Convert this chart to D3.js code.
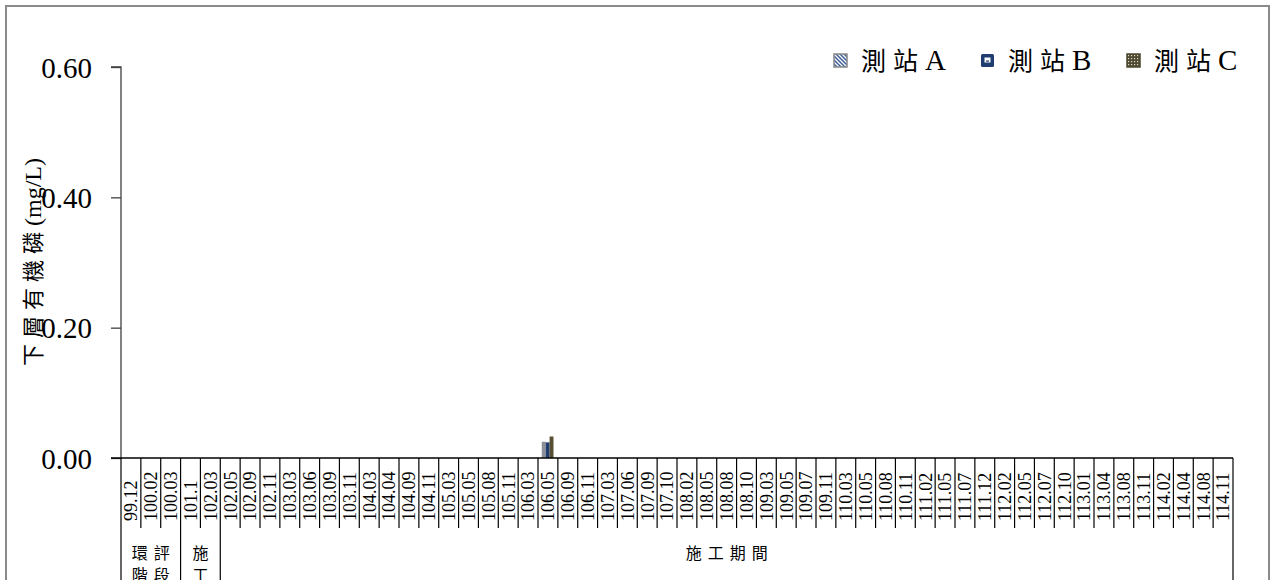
<!DOCTYPE html>
<html>
<head>
<meta charset="utf-8">
<script src="https://cdn.jsdelivr.net/npm/d3@7"></script>
<style>
  html, body { margin: 0; padding: 0; background: #fff; }
  svg { display: block; }
</style>
</head>
<body>
<svg id="chart" width="1272" height="580"></svg>
<script>
const categories = ["99.12","100.02","100.03","101.1","102.03","102.05","102.09","102.11","103.03","103.06","103.09","103.11","104.03","104.04","104.09","104.11","105.03","105.05","105.08","105.11","106.03","106.05","106.09","106.11","107.03","107.06","107.09","107.10","108.02","108.05","108.08","108.10","109.03","109.05","109.07","109.11","110.03","110.05","110.08","110.11","111.02","111.05","111.07","111.12","112.02","112.05","112.07","112.10","113.01","113.04","113.08","113.11","114.02","114.04","114.08","114.11"];

const seriesNames = ["測站A","測站B","測站C"];
const stationA = [0,0,0,0,0,0,0,0,0,0,0,0,0,0,0,0,0,0,0,0,0,0.025,0,0,0,0,0,0,0,0,0,0,0,0,0,0,0,0,0,0,0,0,0,0,0,0,0,0,0,0,0,0,0,0,0,0];
const stationB = [0,0,0,0,0,0,0,0,0,0,0,0,0,0,0,0,0,0,0,0,0,0.024,0,0,0,0,0,0,0,0,0,0,0,0,0,0,0,0,0,0,0,0,0,0,0,0,0,0,0,0,0,0,0,0,0,0];
const stationC = [0,0,0,0,0,0,0,0,0,0,0,0,0,0,0,0,0,0,0,0,0,0.033,0,0,0,0,0,0,0,0,0,0,0,0,0,0,0,0,0,0,0,0,0,0,0,0,0,0,0,0,0,0,0,0,0,0];

const groupLabels = [["環評","階段"],["施","工"],["施工期間"]];
const groupSizes = [3, 2, 51];

const yTicks = [0, 0.2, 0.4, 0.6];
const yLabelCJK = "下層有機磷";
const yLabelUnit = "(mg/L)";

const svg = d3.select("#chart");
const serif = "'Liberation Serif','Times New Roman',serif";
const cjk = "'Noto Sans CJK TC','Noto Sans CJK SC',sans-serif";

const defs = svg.append("defs");
const pA = defs.append("pattern").attr("id","patA").attr("patternUnits","userSpaceOnUse")
  .attr("x",834).attr("y",54).attr("width",4).attr("height",4);
pA.append("rect").attr("width",4).attr("height",4).attr("fill","#3f5f9a");
pA.append("path").attr("d","M-1,-1 L5,5 M-1,3 L1,5 M3,-1 L5,1").attr("stroke","#ffffff").attr("stroke-width",1.3);
const pC = defs.append("pattern").attr("id","patC").attr("patternUnits","userSpaceOnUse")
  .attr("x",1127).attr("y",54).attr("width",3).attr("height",3);
pC.append("rect").attr("width",3).attr("height",3).attr("fill","#4d4830");
pC.append("rect").attr("x",1).attr("y",1).attr("width",1.2).attr("height",1.2).attr("fill","#e0dcc8");

const barFills = ["#8e9099","#1f3d6e","#575033"];

// frame
svg.append("rect").attr("x",6).attr("y",6).attr("width",1263).attr("height",600)
  .attr("fill","none").attr("stroke","#8a8a8a").attr("stroke-width",2);

const pLeft = 121, pRight = 1233, pTop = 67, pBottom = 458;
const x = d3.scaleBand().domain(categories).range([pLeft, pRight]).padding(0);
const y = d3.scaleLinear().domain([0, 0.6]).range([pBottom, pTop]);
const x1 = d3.scaleBand().domain(seriesNames).range([x.bandwidth()*0.19, x.bandwidth()*0.78]).padding(0);

// bars
const seriesData = [stationA, stationB, stationC];
seriesNames.forEach((s, si) => {
  svg.append("g").selectAll("rect")
    .data(categories.map((c, i) => ({c, v: seriesData[si][i]})).filter(d => d.v != null && d.v > 0))
    .join("rect")
    .attr("x", d => x(d.c) + x1(s))
    .attr("y", d => y(d.v))
    .attr("width", x1.bandwidth())
    .attr("height", d => y(0) - y(d.v))
    .attr("fill", barFills[si]);
});

// y axis
const yAxis = d3.axisLeft(y).tickValues(yTicks).tickFormat(d3.format(".2f")).tickSize(10).tickPadding(19);
const gy = svg.append("g").attr("transform", `translate(${pLeft},0)`).call(yAxis);
gy.select(".domain").attr("stroke","#404040").attr("stroke-width",1.3).attr("d", `M-10,${pTop}H0V${pBottom}`);
gy.selectAll(".tick line").attr("stroke","#404040").attr("stroke-width",1.3);
gy.selectAll(".tick text").attr("font-family", serif).attr("font-size", 29).attr("fill","#000").attr("dy","0.35em");

// x axis line
const gx = svg.append("g").attr("transform", `translate(0,${pBottom})`)
  .call(d3.axisBottom(x).tickSize(0).tickFormat(""));
gx.select(".domain").attr("stroke","#000").attr("stroke-width",1.3).attr("d", `M${pLeft-10},0H${pRight}`);

// category separators
const groupStarts = [];
let acc = 0;
groupSizes.forEach(n => { groupStarts.push(acc); acc += n; });
const bounds = d3.range(categories.length + 1);
svg.append("g").selectAll("line").data(bounds).join("line")
  .attr("x1", i => pLeft + i * x.step()).attr("x2", i => pLeft + i * x.step())
  .attr("y1", pBottom)
  .attr("y2", i => (groupStarts.includes(i) || i === categories.length) ? 590 : 528)
  .attr("stroke","#000").attr("stroke-width",1.2);

// category labels
svg.append("g").selectAll("text").data(categories).join("text")
  .attr("transform", d => `translate(${x(d) + x.bandwidth()/2},521) rotate(-90)`)
  .attr("dy","0.35em")
  .attr("text-anchor","start")
  .attr("font-family", serif).attr("font-size", 18).attr("fill","#000")
  .text(d => d);

// group labels
groupLabels.forEach((lines, gi) => {
  const i0 = groupStarts[gi];
  const cx = pLeft + (i0 + groupSizes[gi]/2) * x.step();
  lines.forEach((t, li) => {
    svg.append("text").attr("x", cx + 3).attr("y", 559 + li*22)
      .attr("text-anchor","middle")
      .attr("font-family", cjk).attr("font-size", 16).attr("letter-spacing", 6).attr("fill","#000")
      .text(t);
  });
});

// y label
const yl = svg.append("text")
  .attr("transform", `translate(41,262) rotate(-90)`)
  .attr("text-anchor","middle")
  .attr("font-family", cjk).attr("font-size", 22).attr("letter-spacing", 6).attr("fill","#000")
  .text(yLabelCJK);
yl.append("tspan").attr("font-family", serif).attr("letter-spacing",0).attr("font-size",24).text(yLabelUnit);

// legend
const legendX = [834, 981, 1127];
svg.append("rect").attr("x", legendX[0]).attr("y", 54).attr("width", 13).attr("height", 13)
  .attr("fill", "url(#patA)").attr("stroke", "#888").attr("stroke-width", 1.5);
svg.append("rect").attr("x", legendX[1]).attr("y", 54).attr("width", 13).attr("height", 13).attr("rx",1.5)
  .attr("fill", "#1f3d6e");
svg.append("rect").attr("x", legendX[1] + 3.5).attr("y", 57.5).attr("width", 6).attr("height", 5)
  .attr("fill", "#ffffff");
svg.append("rect").attr("x", legendX[1] + 5).attr("y", 60.5).attr("width", 3).attr("height", 1.2)
  .attr("fill", "#1f3d6e");
svg.append("rect").attr("x", legendX[2]).attr("y", 54).attr("width", 13).attr("height", 13)
  .attr("fill", "url(#patC)").attr("stroke", "#4d4830").attr("stroke-width", 1.5);

seriesNames.forEach((s, i) => {
  const t = svg.append("text").attr("x", legendX[i] + 27).attr("y", 70)
    .attr("font-family", cjk).attr("font-size", 25).attr("letter-spacing", 7).attr("fill","#000")
    .text(s.slice(0,2));
  t.append("tspan").attr("font-family", serif).attr("font-size", 29).attr("letter-spacing",0).text(s.slice(2));
});
</script>
</body>
</html>
